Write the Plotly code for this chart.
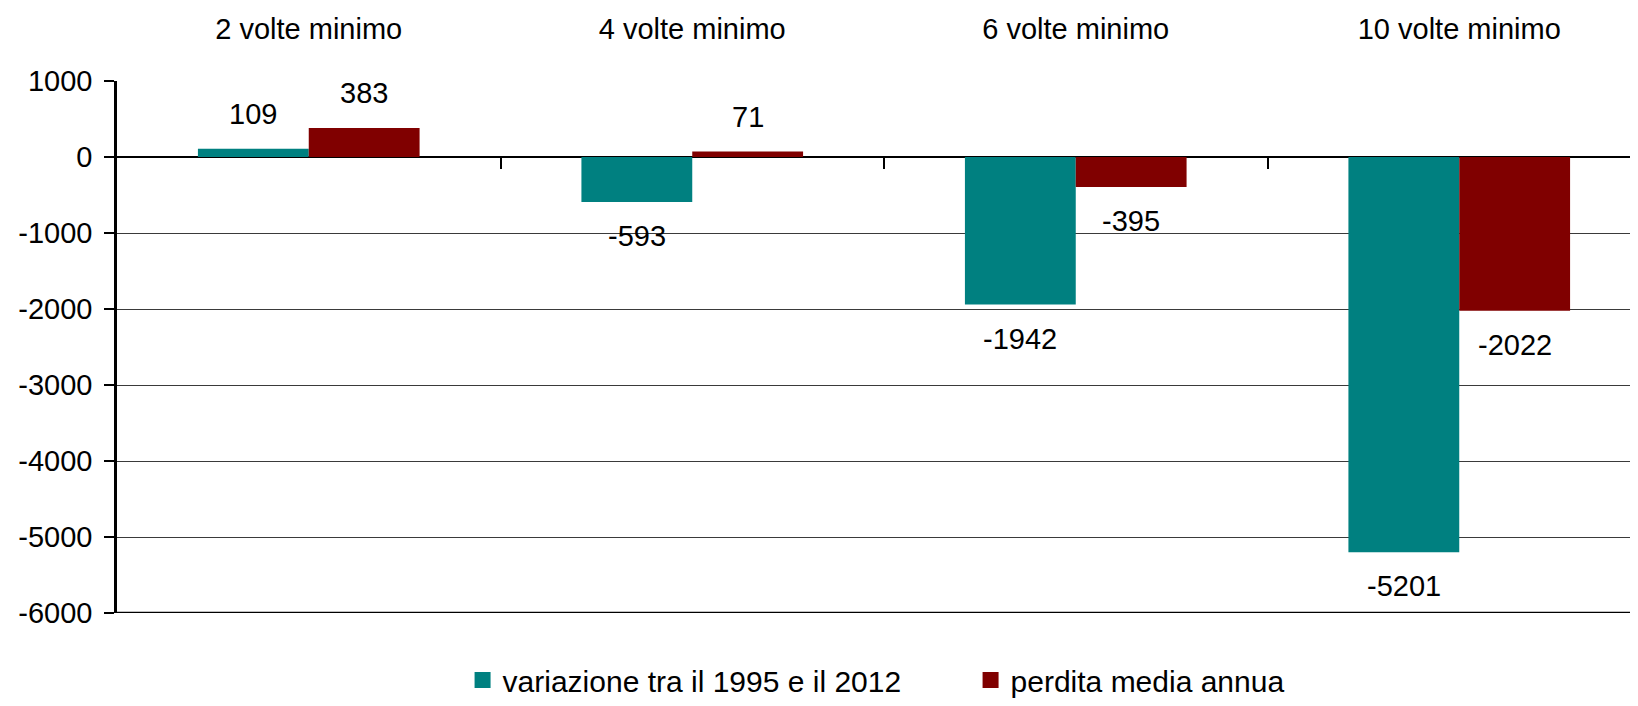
import plotly.graph_objects as go

categories = ["2 volte minimo", "4 volte minimo", "6 volte minimo", "10 volte minimo"]
variazione = [109, -593, -1942, -5201]
perdita = [383, 71, -395, -2022]
series_names = ["variazione tra il 1995 e il 2012", "perdita media annua"]
colors = ["#008080", "#800000"]
y_ticks = [1000, 0, -1000, -2000, -3000, -4000, -5000, -6000]

FONT = "Liberation Sans, Arial, sans-serif"
FS = 29
BARGAP = 0.422

xpos = list(range(len(categories)))
boundaries = [i + 0.5 for i in xpos[:-1]]
series = [variazione, perdita]
n_series = len(series)
bar_w = (1 - BARGAP) / n_series

fig = go.Figure()
for k, (vals, name, col) in enumerate(zip(series, series_names, colors)):
    fig.add_trace(go.Bar(
        x=xpos, y=vals, name=name, marker=dict(color=col, line=dict(width=0)),
        showlegend=False,
    ))
    fig.add_trace(go.Scatter(
        x=[None], y=[None], mode="markers", name=name,
        marker=dict(symbol="square", size=16, color=col), showlegend=True,
    ))
    # value labels, placed at each bar's end
    off = (k - (n_series - 1) / 2) * bar_w
    for xi, v in zip(xpos, vals):
        fig.add_annotation(
            x=xi + off, y=v, text=str(v), showarrow=False,
            yanchor="bottom" if v >= 0 else "top", yshift=17 if v >= 0 else -16,
            font=dict(family=FONT, size=FS, color="black"),
        )

# helper trace for the boundary-tick axis
fig.add_trace(go.Scatter(x=boundaries, y=[0] * len(boundaries), xaxis="x2",
                         mode="markers", marker=dict(opacity=0), hoverinfo="skip",
                         showlegend=False))

# page body has an 8px margin, so the figure is 8px smaller than the window
W, H = 1630, 698
ml, mt, mb = 109, 73, 93
plot_w = W - ml
cat_px = 383.5
xr = [-0.5, -0.5 + plot_w / cat_px]
ymin, ymax = -6000, 1000
zero_frac = (0 - ymin) / (ymax - ymin)

fig.update_layout(
    width=W, height=H,
    margin=dict(l=ml, r=0, t=mt, b=mb, autoexpand=False),
    paper_bgcolor="white", plot_bgcolor="white",
    barmode="group", bargap=BARGAP, bargroupgap=0,
    font=dict(family=FONT, size=FS, color="black"),
    xaxis=dict(range=xr, side="top", tickmode="array", tickvals=xpos, ticktext=categories,
               ticks="", showgrid=False, zeroline=False, showline=False, automargin=False,
               tickfont=dict(family=FONT, size=FS), ticklabelstandoff=35, fixedrange=True),
    xaxis2=dict(range=xr, overlaying="x", anchor="free", position=zero_frac, side="bottom",
                tickmode="array", tickvals=boundaries, ticks="outside", ticklen=11,
                tickwidth=2, tickcolor="black", showticklabels=False, showgrid=False,
                zeroline=False, showline=False, automargin=False),
    yaxis=dict(range=[ymin, ymax], tickmode="array", tickvals=y_ticks,
               ticktext=[str(v) for v in y_ticks], automargin=False,
               ticks="outside", ticklen=10, tickwidth=1.5, tickcolor="black",
               showline=True, linecolor="black", linewidth=2.5,
               showgrid=True, gridcolor="#3a3a3a", gridwidth=1,
               zeroline=True, zerolinecolor="black", zerolinewidth=1.5,
               tickfont=dict(family=FONT, size=FS), ticklabelstandoff=6),
    legend=dict(orientation="h", x=0.2272, xanchor="left", yref="container", y=0.0,
                yanchor="bottom", entrywidth=463, entrywidthmode="pixels",
                font=dict(family=FONT, size=30), itemwidth=30, tracegroupgap=0,
                bgcolor="rgba(0,0,0,0)"),
)
# bottom axis line
fig.add_hline(y=ymin, line=dict(color="black", width=2.5))

fig.write_html("out.html")
